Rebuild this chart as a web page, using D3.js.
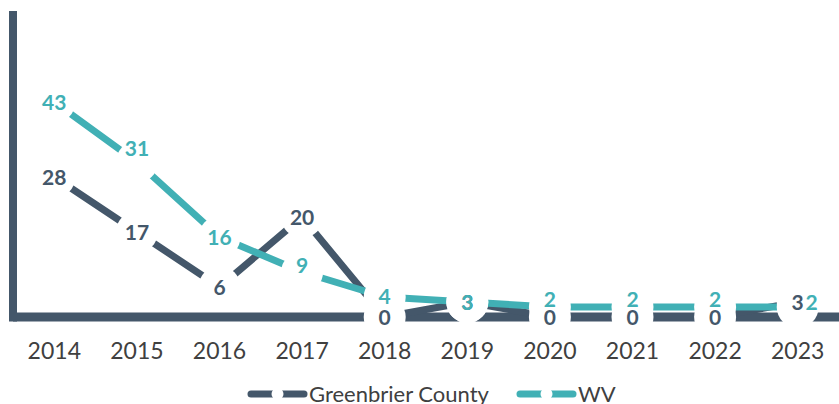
<!DOCTYPE html>
<html>
<head>
<meta charset="UTF-8">
<title>Greenbrier County vs WV</title>
<style>
  body { margin: 0; background: #fff; }
  svg { display: block; font-family: Lato, "Open Sans", sans-serif; }
</style>
</head>
<body>
<div id="chart"></div>
<script src="https://cdnjs.cloudflare.com/ajax/libs/d3/7.8.5/d3.min.js"></script>
<script>
const years = ["2014", "2015", "2016", "2017", "2018", "2019", "2020", "2021", "2022", "2023"];
const greenbrier = [28, 17, 6, 20, 0, 3, 0, 0, 0, 3];
const wv = [43, 31, 16, 9, 4, 3, 2, 2, 2, 2];
const seriesNames = ["Greenbrier County", "WV"];

const W = 839, H = 404,
      dark = "#44576a", teal = "#41b0b5",
      plotLeft = 13, plotRight = 839, plotTop = 11, plotBottom = 317;

// label nudges (px) for the WV labels, as placed in the original
const wvNudge = {"2015": [0, -14], "2017": [0, -7], "2018": [0, -1], "2020": [0, -8],
                 "2021": [0, -8], "2022": [0, -8], "2023": [14, -5]};

const svg = d3.select('#chart').append('svg')
    .attr('width', W)
    .attr('height', H);

const x = d3.scaleBand().domain(years).range([plotLeft, plotRight]).padding(0),
      y = d3.scaleLinear().domain([0, 61.2]).range([plotBottom, plotTop]);
const cx = d => x(d) + x.bandwidth() / 2;

const series = [
  {name: seriesNames[0], values: greenbrier, color: dark},
  {name: seriesNames[1], values: wv, color: teal}
];

// axes: thick lines, no ticks
svg.append('line')
   .attr('x1', plotLeft).attr('x2', plotRight)
   .attr('y1', y(0)).attr('y2', y(0))
   .attr('stroke', dark).attr('stroke-width', 9);
svg.append('line')
   .attr('x1', plotLeft).attr('x2', plotLeft)
   .attr('y1', plotTop).attr('y2', y(0) + 4.5)
   .attr('stroke', dark).attr('stroke-width', 8);

const line = d3.line()
    .x((d, i) => cx(years[i]))
    .y(d => y(d));

series.forEach(s => {
  svg.append('path')
     .datum(s.values)
     .attr('fill', 'none')
     .attr('stroke', s.color)
     .attr('stroke-width', 7)
     .attr('stroke-linejoin', 'round')
     .attr('d', line);
});

// white markers cut the lines around each point
series.forEach(s => {
  svg.append('g').selectAll('circle')
     .data(s.values)
     .enter().append('circle')
       .attr('cx', (d, i) => cx(years[i]))
       .attr('cy', d => y(d))
       .attr('r', 21)
       .attr('fill', '#fff');
});

// data labels
series.forEach((s, k) => {
  svg.append('g').selectAll('text')
     .data(s.values)
     .enter().append('text')
       .attr('x', (d, i) => cx(years[i]) + (k === 1 && wvNudge[years[i]] ? wvNudge[years[i]][0] : 0))
       .attr('y', (d, i) => y(d) + (k === 1 && wvNudge[years[i]] ? wvNudge[years[i]][1] : 0))
       .attr('dy', '0.36em')
       .attr('text-anchor', 'middle')
       .attr('font-size', 21)
       .attr('font-weight', 'bold')
       .attr('fill', s.color)
       .text(d => d);
});

// x tick labels
svg.append('g').selectAll('text')
   .data(years)
   .enter().append('text')
     .attr('x', d => cx(d))
     .attr('y', 359)
     .attr('text-anchor', 'middle')
     .attr('font-size', 23)
     .attr('fill', '#404040')
     .text(d => d);

// legend
const legendX = [248, 517];
series.forEach((s, k) => {
  const g = svg.append('g').attr('transform', 'translate(' + legendX[k] + ',394)');
  g.append('line')
   .attr('x1', 3).attr('x2', 56)
   .attr('stroke', s.color).attr('stroke-width', 7)
   .attr('stroke-linecap', 'round');
  g.append('circle').attr('cx', 29.5).attr('r', 6).attr('fill', '#fff');
  g.append('text')
   .attr('x', 61).attr('y', 8)
   .attr('font-size', 22)
   .attr('fill', '#404040')
   .text(s.name);
});
</script>
</body>
</html>
